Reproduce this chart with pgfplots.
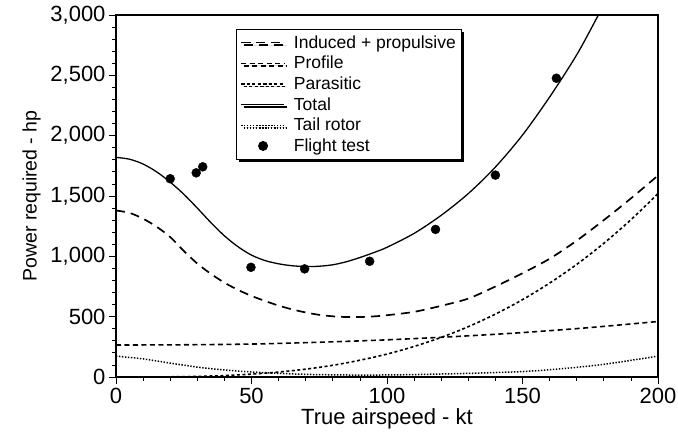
\documentclass[border=0pt]{standalone}
\usepackage{fontspec}
\setmainfont{Liberation Sans}
\usepackage{pgfplots}
\pgfplotsset{compat=1.18}
\usetikzlibrary{shadows}

\begin{document}
\begin{tikzpicture}
\begin{axis}[
  scale only axis,
  width=542bp, height=362bp,
  xmin=0, xmax=200, ymin=0, ymax=3000,
  xtick={0,50,...,200}, ytick={0,500,...,3000},
  minor x tick num=4, minor y tick num=4,
  xtick pos=left, ytick pos=left,
  tick align=outside,
  major tick length=7bp, minor tick length=4bp,
  axis line style={line width=1.3pt},
  every tick/.style={black, line width=0.8pt},
  /pgf/number format/assume math mode=true,
  /pgf/number format/1000 sep={,},
  tick label style={font=\fontsize{22bp}{26bp}\selectfont},
  xticklabel style={yshift=-1bp},
  xlabel={True airspeed - kt},
  ylabel={Power required - hp},
  xlabel style={font=\fontsize{22bp}{26bp}\selectfont, yshift=2bp},
  ylabel style={font=\fontsize{19.5bp}{23bp}\selectfont, yshift=3bp},
  legend cell align=left,
  legend style={at={(rel axis cs:0.221,0.961)}, anchor=north west,
    draw=black, line width=0.9pt, fill=white,
    general shadow={shadow xshift=2.5bp, shadow yshift=-2.5bp, fill=black},
    font=\fontsize{17.5bp}{20bp}\selectfont,
    inner xsep=4bp, inner ysep=4bp, row sep=2.5bp},
  legend image code/.code={%
    \draw[mark repeat=2,mark phase=2,#1] plot coordinates {(0bp,0bp) (22bp,0bp) (43bp,0bp)};
    \path (50bp,0bp);},
]
% Induced + propulsive
\addplot[black, line width=1.7pt, dash pattern=on 9bp off 6bp, smooth] coordinates {
 (0,1380) (5,1360) (10,1312) (15,1245) (20,1160) (25,1045) (30,940) (35,855)
 (40,782) (45,722) (50,672) (55,630) (60,592) (65,560) (70,535) (75,515)
 (80,503) (85,497) (90,497) (95,502) (100,512) (110,540) (120,590) (130,650)
 (140,750) (150,860) (160,980) (170,1130) (180,1300) (190,1480) (200,1670)};
\addlegendentry{Induced + propulsive}
% Profile
\addplot[black, line width=1.6pt, dash pattern=on 5bp off 3.5bp, smooth] coordinates {
 (0,265) (25,267) (50,273) (75,288) (100,308) (125,335) (150,368) (175,410) (200,460)};
\addlegendentry{Profile}
% Parasitic
\addplot[black, line width=1.6pt, dash pattern=on 3bp off 2.5bp, smooth] coordinates {
 (0,0) (10,0.2) (20,1.5) (30,5) (40,12) (50,24) (60,41) (70,65) (80,97)
 (90,139) (100,190) (110,253) (120,328) (130,417) (140,521) (150,641)
 (160,778) (170,933) (180,1108) (190,1303) (200,1520)};
\addlegendentry{Parasitic}
% Total
\addplot[black, line width=1.3pt, smooth] coordinates {
 (0,1820) (5,1805) (10,1765) (15,1700) (20,1615) (25,1515) (30,1400) (35,1280)
 (40,1170) (45,1080) (50,1010) (55,965) (60,938) (65,922) (70,915) (75,918)
 (80,930) (85,955) (90,990) (95,1030) (100,1075) (110,1190) (120,1340)
 (130,1520) (140,1740) (150,2005) (160,2320) (170,2670) (178,3000) (182,3170)};
\addlegendentry{Total}
% Tail rotor
\addplot[black, line width=1.5pt, dash pattern=on 1.4bp off 1.6bp, smooth] coordinates {
 (0,173) (10,150) (20,115) (30,82) (40,58) (50,42) (60,30) (70,22) (80,18)
 (90,16) (100,17) (110,20) (120,25) (130,30) (140,37) (150,45) (160,60)
 (170,80) (180,105) (190,138) (200,173)};
\addlegendentry{Tail rotor}
% Flight test
\addplot[only marks, mark=*, mark size=4.5bp, black] coordinates {
 (20,1643) (29.6,1692) (32,1742) (49.8,909) (69.6,896) (93.6,959)
 (117.9,1223) (140,1673) (162.5,2476)};
\addlegendentry{Flight test}
\end{axis}
\pgfresetboundingbox
\path[use as bounding box] ([shift={(-116bp,-69bp)}]current axis.south west) rectangle ++(678bp,446bp);
\end{tikzpicture}
\end{document}
